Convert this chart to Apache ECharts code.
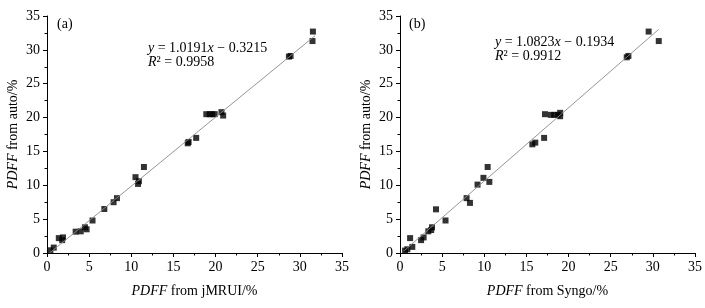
<!DOCTYPE html>
<html>
<head>
<meta charset="utf-8">
<script src="https://cdn.jsdelivr.net/npm/echarts@6/dist/echarts.min.js"></script>
<style>
  html, body { margin: 0; padding: 0; background: #fff; }
  #chart { width: 705px; height: 308px; }
</style>
</head>
<body>
<div id="chart"></div>
<script>
// panel (a): jMRUI vs auto
const jmruiX = [0.4, 0.8, 1.4, 1.9, 1.8, 3.4, 4.0, 4.5, 4.7, 5.4, 6.8, 7.9, 8.3, 10.5, 10.9, 10.8, 11.5,
  16.7, 16.8, 17.7, 18.9, 19.3, 19.6, 19.9, 20.7, 20.9, 28.7, 28.9, 31.55, 31.5];
const jmruiY = [0.4, 0.8, 2.2, 2.3, 1.9, 3.15, 3.2, 3.8, 3.5, 4.8, 6.5, 7.5, 8.1, 11.2, 10.6, 10.2, 12.7,
  16.2, 16.4, 17.0, 20.5, 20.5, 20.5, 20.5, 20.8, 20.3, 29.0, 29.1, 32.7, 31.3];

// panel (b): Syngo vs auto
const syngoX = [0.6, 0.87, 1.2, 1.46, 2.5, 2.8, 3.36, 3.7, 3.8, 4.27, 5.4, 7.9, 8.3, 9.2, 9.9, 10.4, 10.6,
  15.7, 16.05, 17.1, 17.2, 17.9, 18.3, 18.7, 19.0, 19.0, 26.9, 27.1, 29.5, 30.7];
const syngoY = [0.35, 0.55, 2.2, 0.9, 1.9, 2.3, 3.2, 3.4, 3.8, 6.45, 4.8, 8.1, 7.4, 10.1, 11.1, 12.7, 10.5,
  16.05, 16.3, 17.0, 20.5, 20.4, 20.4, 20.4, 20.7, 20.2, 28.9, 29.1, 32.7, 31.3];

// fitted lines (slope, intercept) and x span drawn
const fitA = [1.0191, -0.3215];
const fitB = [1.0823, -0.1934];
const spanA = [0.3, 31.8];
const spanB = [0.5, 30.7];

const axisTicks = [0, 5, 10, 15, 20, 25, 30, 35];

const FONT = "'Liberation Serif', 'Times New Roman', Times, serif";
const FS = 14;

function pairs(xs, ys) {
  return xs.map((x, i) => [x, ys[i]]);
}
function fitLine(fit, span) {
  return span.map((x) => [x, fit[0] * x + fit[1]]);
}

const chart = echarts.init(document.getElementById("chart"), null, { renderer: "canvas" });

const baseAxis = {
  type: "value",
  min: axisTicks[0],
  max: axisTicks[axisTicks.length - 1],
  interval: 5,
  axisLine: { show: true, onZero: false, lineStyle: { color: "#000", width: 1 } },
  axisTick: { show: true, inside: false, length: 4, lineStyle: { color: "#000" } },
  minorTick: { show: true, splitNumber: 2, length: 2.5, lineStyle: { color: "#000" } },
  splitLine: { show: false },
  axisLabel: { color: "#000", fontFamily: FONT, fontSize: FS, margin: 7 },
  nameTextStyle: {
    color: "#000",
    fontFamily: FONT,
    fontSize: FS,
    rich: { i: { fontStyle: "italic", fontFamily: FONT, fontSize: FS, color: "#000" } },
  },
};

function xAxis(idx, label) {
  return Object.assign({}, baseAxis, {
    gridIndex: idx,
    name: "{i|PDFF} from " + label + "/%",
    nameLocation: "middle",
    nameGap: 31,
  });
}
function yAxis(idx) {
  return Object.assign({}, baseAxis, {
    gridIndex: idx,
    name: "{i|PDFF} from auto/%",
    nameLocation: "middle",
    nameGap: 27,
    nameRotate: 90,
  });
}

const eqRich = {
  i: { fontStyle: "italic", fontFamily: FONT, fontSize: FS, fill: "#000" },
  n: { fontFamily: FONT, fontSize: FS, fill: "#000" },
};

function eqText(left, top, fit, r2) {
  const sign = fit[1] < 0 ? " \u2212 " : " + ";
  return {
    type: "text",
    left: left,
    top: top,
    style: {
      text:
        "{i|y}{n| = " + fit[0].toFixed(4) + "}{i|x}{n|" + sign + Math.abs(fit[1]).toFixed(4) + "}\n" +
        "{i|R}{n|\u00b2 = " + r2 + "}",
      rich: eqRich,
      lineHeight: 14,
      fontFamily: FONT,
      fontSize: FS,
      fill: "#000",
    },
  };
}

function panelLabel(left, txt) {
  return {
    type: "text",
    left: left,
    top: 17,
    style: { text: txt, fontFamily: FONT, fontSize: FS, fill: "#000" },
  };
}

chart.setOption({
  backgroundColor: "#fff",
  animation: false,
  grid: [
    { left: 47, top: 16, width: 295, height: 237 },
    { left: 400, top: 16, width: 295, height: 237 },
  ],
  xAxis: [xAxis(0, "jMRUI"), xAxis(1, "Syngo")],
  yAxis: [yAxis(0), yAxis(1)],
  graphic: [
    panelLabel(57, "(a)"),
    panelLabel(409, "(b)"),
    eqText(148, 41, fitA, "0.9958"),
    eqText(495, 35, fitB, "0.9912"),
  ],
  series: [
    {
      type: "line",
      xAxisIndex: 0,
      yAxisIndex: 0,
      data: fitLine(fitA, spanA),
      symbol: "none",
      lineStyle: { color: "#8a8a8a", width: 0.9 },
      silent: true,
    },
    {
      type: "line",
      xAxisIndex: 1,
      yAxisIndex: 1,
      data: fitLine(fitB, spanB),
      symbol: "none",
      lineStyle: { color: "#8a8a8a", width: 0.9 },
      silent: true,
    },
    {
      type: "scatter",
      xAxisIndex: 0,
      yAxisIndex: 0,
      data: pairs(jmruiX, jmruiY),
      symbol: "rect",
      symbolSize: 6,
      itemStyle: { color: "#000" },
    },
    {
      type: "scatter",
      xAxisIndex: 1,
      yAxisIndex: 1,
      data: pairs(syngoX, syngoY),
      symbol: "rect",
      symbolSize: 6,
      itemStyle: { color: "#000" },
    },
  ],
});
</script>
</body>
</html>
